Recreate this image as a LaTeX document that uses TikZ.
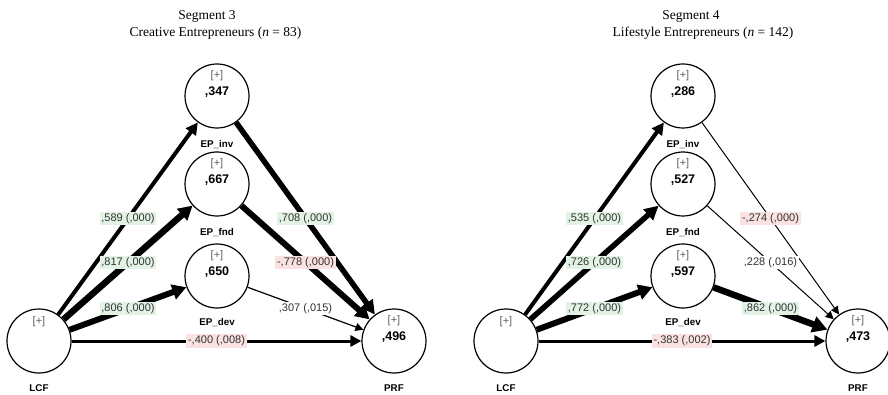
\documentclass[tikz,border=0pt]{standalone}
\usepackage{fontspec}
\setmainfont{Liberation Serif}
\newfontfamily\lsans{Liberation Sans}
\usetikzlibrary{arrows.meta,calc}
\definecolor{gbg}{RGB}{226,243,230}
\definecolor{rbg}{RGB}{251,226,226}
\definecolor{lbltxt}{RGB}{50,50,50}
\definecolor{plusgray}{RGB}{95,95,95}
\begin{document}
\begin{tikzpicture}[x=1pt,y=-1pt,
  lv/.style={circle,draw,line width=1.2pt,minimum size=64pt,inner sep=0pt,fill=white},
  plus/.style={font=\lsans\fontsize{11}{12}\selectfont,text=plusgray,inner sep=0pt},
  val/.style={font=\lsans\bfseries\fontsize{12.5}{14}\selectfont,inner sep=0pt},
  lvname/.style={font=\lsans\bfseries\fontsize{9.8}{11}\selectfont,inner sep=0pt},
  coef/.style={font=\lsans\fontsize{11}{12}\selectfont,text=lbltxt,inner xsep=1.8pt,inner ysep=1.5pt,text height=8.3pt,text depth=2.5pt},
  gbox/.style={coef,fill=gbg},
  rbox/.style={coef,fill=rbg},
  wbox/.style={coef,fill=white},
  title/.style={font=\fontsize{13.5}{16}\selectfont,inner sep=0pt},
  pth/.style n args={3}{line width=#1pt,-{Triangle[length=#2pt,width=#3pt]}}
]
\useasboundingbox (0,0) rectangle (888,395);

% ---------- Segment 3 ----------
\node[title] (t1a) at (207,16) {Segment 3};
\node[title] (t1b) at (215.5,33) {Creative Entrepreneurs (\textit{n} = 83)};

\node[lv] (inv1) at (217,96) {};
\node[lv] (fnd1) at (217,184) {};
\node[lv] (dev1) at (217,276) {};
\node[lv] (lcf1) at (39,341) {};
\node[lv] (prf1) at (394,341) {};

\node[plus] (inv1p) at ($(inv1)+(0,-20)$) {[+]};
\node[val]  (inv1v) at ($(inv1)+(0,-4)$) {,347};
\node[lvname] (inv1n) at ($(inv1)+(0,49)$) {EP\_inv};
\node[plus] (fnd1p) at ($(fnd1)+(0,-20)$) {[+]};
\node[val]  (fnd1v) at ($(fnd1)+(0,-4)$) {,667};
\node[lvname] (fnd1n) at ($(fnd1)+(0,49)$) {EP\_fnd};
\node[plus] (dev1p) at ($(dev1)+(0,-20)$) {[+]};
\node[val]  (dev1v) at ($(dev1)+(0,-4)$) {,650};
\node[lvname] (dev1n) at ($(dev1)+(0,47)$) {EP\_dev};
\node[plus] (lcf1p) at ($(lcf1)+(0,-19)$) {[+]};
\node[lvname] (lcf1n) at ($(lcf1)+(0,47)$) {LCF};
\node[plus] (prf1p) at ($(prf1)+(0,-20)$) {[+]};
\node[val]  (prf1v) at ($(prf1)+(0,-4)$) {,496};
\node[lvname] (prf1n) at ($(prf1)+(0,47)$) {PRF};

\draw[pth={4}{12}{12}]   (lcf1) -- (inv1);
\draw[pth={6.5}{14}{15}] (lcf1) -- (fnd1);
\draw[pth={6}{14}{15}]   (lcf1) -- (dev1);
\draw[pth={3}{11}{11}]   (lcf1) -- (prf1);
\draw[pth={5.5}{14}{14}] (inv1) -- (prf1);
\draw[pth={6}{14}{15}]   (fnd1) -- (prf1);
\draw[pth={1.2}{8}{8}]   (dev1) -- (prf1);

\node[gbox] (c11) at ($(lcf1)!0.5!(inv1)$) {,589 (,000)};
\node[gbox] (c12) at ($(lcf1)!0.5!(fnd1)$) {,817 (,000)};
\node[gbox] (c13) at ($(lcf1)!0.5!(dev1)$) {,806 (,000)};
\node[rbox] (c14) at ($(lcf1)!0.5!(prf1)$) {-,400 (,008)};
\node[gbox] (c15) at ($(inv1)!0.5!(prf1)$) {,708 (,000)};
\node[rbox] (c16) at ($(fnd1)!0.5!(prf1)$) {-,778 (,000)};
\node[wbox] (c17) at ($(dev1)!0.5!(prf1)$) {,307 (,015)};

% ---------- Segment 4 ----------
\node[title] (t2a) at (691,16) {Segment 4};
\node[title] (t2b) at (703,33) {Lifestyle Entrepreneurs (\textit{n} = 142)};

\node[lv] (inv2) at (683,96) {};
\node[lv] (fnd2) at (683,184) {};
\node[lv] (dev2) at (683,276) {};
\node[lv] (lcf2) at (506,341) {};
\node[lv] (prf2) at (858,341) {};

\node[plus] (inv2p) at ($(inv2)+(0,-20)$) {[+]};
\node[val]  (inv2v) at ($(inv2)+(0,-4)$) {,286};
\node[lvname] (inv2n) at ($(inv2)+(0,49)$) {EP\_inv};
\node[plus] (fnd2p) at ($(fnd2)+(0,-20)$) {[+]};
\node[val]  (fnd2v) at ($(fnd2)+(0,-4)$) {,527};
\node[lvname] (fnd2n) at ($(fnd2)+(0,49)$) {EP\_fnd};
\node[plus] (dev2p) at ($(dev2)+(0,-20)$) {[+]};
\node[val]  (dev2v) at ($(dev2)+(0,-4)$) {,597};
\node[lvname] (dev2n) at ($(dev2)+(0,47)$) {EP\_dev};
\node[plus] (lcf2p) at ($(lcf2)+(0,-19)$) {[+]};
\node[lvname] (lcf2n) at ($(lcf2)+(0,47)$) {LCF};
\node[plus] (prf2p) at ($(prf2)+(0,-20)$) {[+]};
\node[val]  (prf2v) at ($(prf2)+(0,-4)$) {,473};
\node[lvname] (prf2n) at ($(prf2)+(0,47)$) {PRF};

\draw[pth={4}{12}{12}]   (lcf2) -- (inv2);
\draw[pth={5.5}{14}{14}] (lcf2) -- (fnd2);
\draw[pth={6}{14}{15}]   (lcf2) -- (dev2);
\draw[pth={3}{11}{11}]   (lcf2) -- (prf2);
\draw[pth={1}{8}{8}]     (inv2) -- (prf2);
\draw[pth={1}{8}{8}]     (fnd2) -- (prf2);
\draw[pth={6.5}{15}{16}] (dev2) -- (prf2);

\node[gbox] (c21) at ($(lcf2)!0.5!(inv2)$) {,535 (,000)};
\node[gbox] (c22) at ($(lcf2)!0.5!(fnd2)$) {,726 (,000)};
\node[gbox] (c23) at ($(lcf2)!0.5!(dev2)$) {,772 (,000)};
\node[rbox] (c24) at ($(lcf2)!0.5!(prf2)$) {-,383 (,002)};
\node[rbox] (c25) at ($(inv2)!0.5!(prf2)$) {-,274 (,000)};
\node[wbox] (c26) at ($(fnd2)!0.5!(prf2)$) {,228 (,016)};
\node[gbox] (c27) at ($(dev2)!0.5!(prf2)$) {,862 (,000)};
\end{tikzpicture}
\end{document}
